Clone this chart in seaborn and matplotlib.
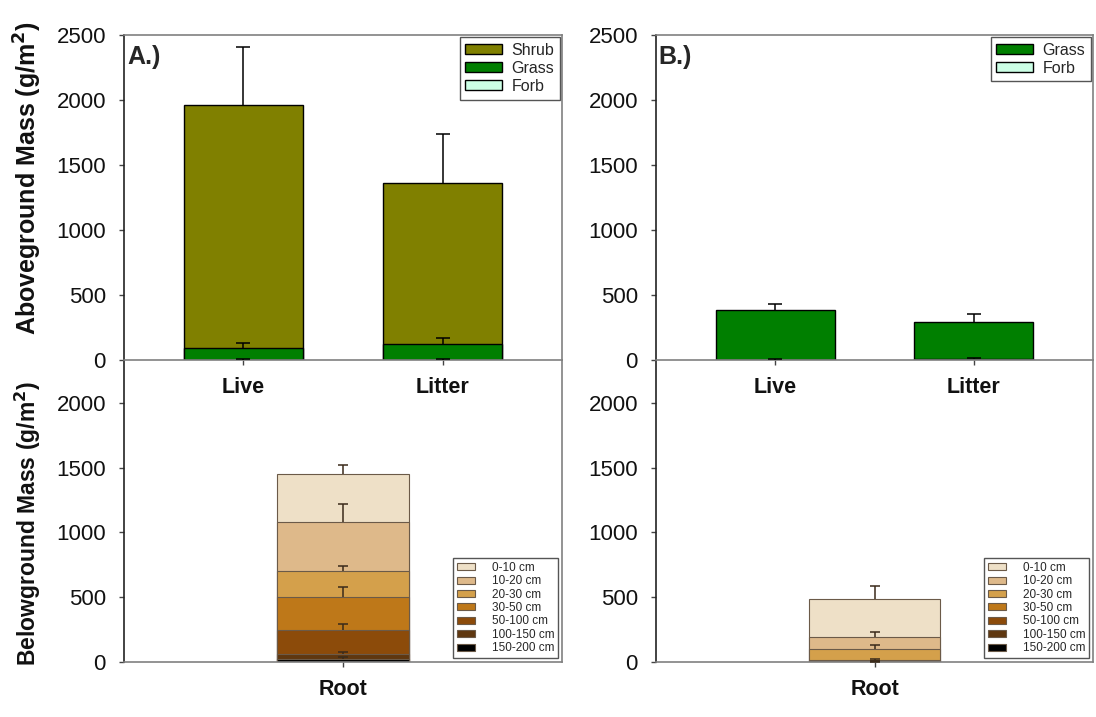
import numpy as np
import matplotlib
matplotlib.use("Agg")
import matplotlib.pyplot as plt
import seaborn as sns
from matplotlib.patches import Patch

sns.set_theme(style="white")
plt.rcParams["font.family"] = ["Liberation Sans", "DejaVu Sans"]

# ---------------- data ----------------
above_groups = ["Live", "Litter"]

# Site A aboveground (g/m2), mean and SE
shrub_a = [1870, 1236]
shrub_a_se = [440, 376]
grass_a = [92, 120]
grass_a_se = [33, 48]
forb_a = [3, 3]
forb_a_se = [3, 3]

# Site B aboveground (g/m2)
grass_b = [382, 283]
grass_b_se = [46, 62]
forb_b = [2, 6]
forb_b_se = [2, 10]

# Root mass by depth (g/m2), listed from the surface down
depth_labels = ["0-10 cm", "10-20 cm", "20-30 cm", "30-50 cm",
                "50-100 cm", "100-150 cm", "150-200 cm"]
root_a = [377, 377, 200, 250, 190, 35, 25]
root_a_se = [64, 141, 44, 82, 45, 20, 17]
root_b = [290, 95, 82, 10, 5, 2, 1]
root_b_se = [100, 36, 33, 8, 3, 2, 1]

root_group = ["Root"]

# ---------------- styling ----------------
C_SHRUB = "#808000"
C_GRASS = "#007f00"
C_FORB = "#ccffe6"
depth_colors = ["#eee0c7", "#deb98a", "#d4a04b", "#be7819",
                "#8c4b0a", "#5f370f", "#000000"]

W, H = 1096, 717
SPINE_GREY = "#808080"
TICK_FS = 16
CAT_FS = 15.5


def px_axes(x0, y_top, x1, y_bot):
    return [x0 / W, 1 - y_bot / H, (x1 - x0) / W, (y_bot - y_top) / H]


fig = plt.figure(figsize=(W / 100, H / 100), dpi=100)

# lower panels first so the upper panels' category labels sit on top
ax_a_bot = fig.add_axes(px_axes(124, 360, 562, 662))
ax_b_bot = fig.add_axes(px_axes(656, 360, 1093, 662))
ax_a_top = fig.add_axes(px_axes(124, 35, 562, 360))
ax_b_top = fig.add_axes(px_axes(656, 35, 1093, 360))
for ax in (ax_a_bot, ax_b_bot):
    ax.set_facecolor("none")


def stacked(ax, groups, layers, colors, errs, edge, lw, ecolor, capsize, width):
    """layers listed bottom -> top; draws cumulative bars tallest first."""
    cum = np.cumsum(np.array(layers, dtype=float), axis=0)
    for i in range(len(layers) - 1, -1, -1):
        sns.barplot(x=groups, y=cum[i], color=colors[i], width=width,
                    saturation=1, edgecolor=edge, linewidth=lw,
                    errorbar=None, ax=ax)
    xpos = np.arange(len(groups))
    for i in range(len(layers)):
        e = np.array(errs[i], dtype=float)
        _, caps, _ = ax.errorbar(xpos, cum[i], yerr=[np.zeros_like(e), e],
                                 fmt="none", ecolor=ecolor, elinewidth=1.1,
                                 capsize=capsize, capthick=1.1, zorder=5)
        # upper whisker only: drop the cap sitting on the bar top
        if len(caps) == 2:
            caps[0].remove()


def style_axes(ax, ylim, yticks, xlim, top=True):
    ax.set_ylim(*ylim)
    ax.set_yticks(yticks)
    ax.set_xlim(*xlim)
    ax.set_xlabel("")
    ax.set_ylabel("")
    for s in ("top", "right", "bottom"):
        ax.spines[s].set_color(SPINE_GREY)
        ax.spines[s].set_linewidth(1.2)
    ax.spines["left"].set_color("#222222")
    ax.spines["left"].set_linewidth(1.2)
    ax.spines["top"].set_visible(top)
    ax.tick_params(axis="y", direction="out", length=3.5, width=1,
                   color="#444444", pad=9.5, labelsize=TICK_FS,
                   labelcolor="#111111", left=True)
    ax.tick_params(axis="x", direction="out", length=3.5, width=1,
                   color="#444444", pad=9, bottom=True)
    for t in ax.get_xticklabels():
        t.set_fontsize(CAT_FS)
        t.set_fontweight("bold")
        t.set_color("#111111")


# ---- A: aboveground
stacked(ax_a_top, above_groups, [forb_a, grass_a, shrub_a],
        [C_FORB, C_GRASS, C_SHRUB], [forb_a_se, grass_a_se, shrub_a_se],
        "black", 1.0, "black", 5, 0.6)
style_axes(ax_a_top, (0, 2500), range(0, 2501, 500), (-0.6, 1.6))

# ---- B: aboveground
stacked(ax_b_top, above_groups, [forb_b, grass_b],
        [C_FORB, C_GRASS], [forb_b_se, grass_b_se],
        "black", 1.0, "black", 5, 0.6)
style_axes(ax_b_top, (0, 2500), range(0, 2501, 500), (-0.6, 1.6))

# ---- roots (stack from deepest layer upward)
root_edge = "#6b5a48"
root_err = "#3a2a1a"
stacked(ax_a_bot, root_group, [[v] for v in root_a[::-1]],
        depth_colors[::-1], [[v] for v in root_a_se[::-1]],
        root_edge, 0.8, root_err, 3.6, 0.6)
style_axes(ax_a_bot, (0, 2330), range(0, 2001, 500), (-1, 1), top=False)

stacked(ax_b_bot, root_group, [[v] for v in root_b[::-1]],
        depth_colors[::-1], [[v] for v in root_b_se[::-1]],
        root_edge, 0.8, root_err, 3.6, 0.6)
style_axes(ax_b_bot, (0, 2330), range(0, 2001, 500), (-1, 1), top=False)

# ---- panel letters
ax_a_top.text(0.007, 0.911, "A.)", transform=ax_a_top.transAxes,
              fontsize=18, fontweight="bold", ha="left", va="baseline")
ax_b_top.text(0.005, 0.911, "B.)", transform=ax_b_top.transAxes,
              fontsize=18, fontweight="bold", ha="left", va="baseline")

# ---- y-axis titles
fig.text(28 / W, 1 - 178 / H, "Aboveground Mass (g/m$^\\mathbf{2}$)",
         rotation=90, ha="center", va="center", fontsize=18,
         fontweight="bold", color="#111111")
fig.text(28 / W, 1 - 524 / H, "Belowground Mass (g/m$^\\mathbf{2}$)",
         rotation=90, ha="center", va="center", fontsize=16.5,
         fontweight="bold", color="#111111")

# ---- legends
def top_legend(ax, names, colors):
    handles = [Patch(facecolor=c, edgecolor="black", linewidth=1)
               for c in colors]
    leg = ax.legend(handles, names, loc="upper right", fontsize=11.5,
                    frameon=True, fancybox=False, framealpha=1,
                    edgecolor="#555555", borderaxespad=0.13,
                    borderpad=0.35, handlelength=2.3, handleheight=0.6,
                    handletextpad=0.6, labelspacing=0.2)
    leg.get_frame().set_linewidth(1)


top_legend(ax_a_top, ["Shrub", "Grass", "Forb"], [C_SHRUB, C_GRASS, C_FORB])
top_legend(ax_b_top, ["Grass", "Forb"], [C_GRASS, C_FORB])


def root_legend(ax):
    handles = [Patch(facecolor=c, edgecolor=root_edge, linewidth=0.8)
               for c in depth_colors]
    leg = ax.legend(handles, depth_labels, loc="lower right", fontsize=8.5,
                    frameon=True, fancybox=False, framealpha=1,
                    edgecolor="#555555", borderaxespad=0.3,
                    borderpad=0.35, handlelength=1.5, handleheight=0.55,
                    handletextpad=1.4, labelspacing=0.12)
    leg.get_frame().set_linewidth(1)


root_legend(ax_a_bot)
root_legend(ax_b_bot)

fig.savefig("out.png", dpi=100)
